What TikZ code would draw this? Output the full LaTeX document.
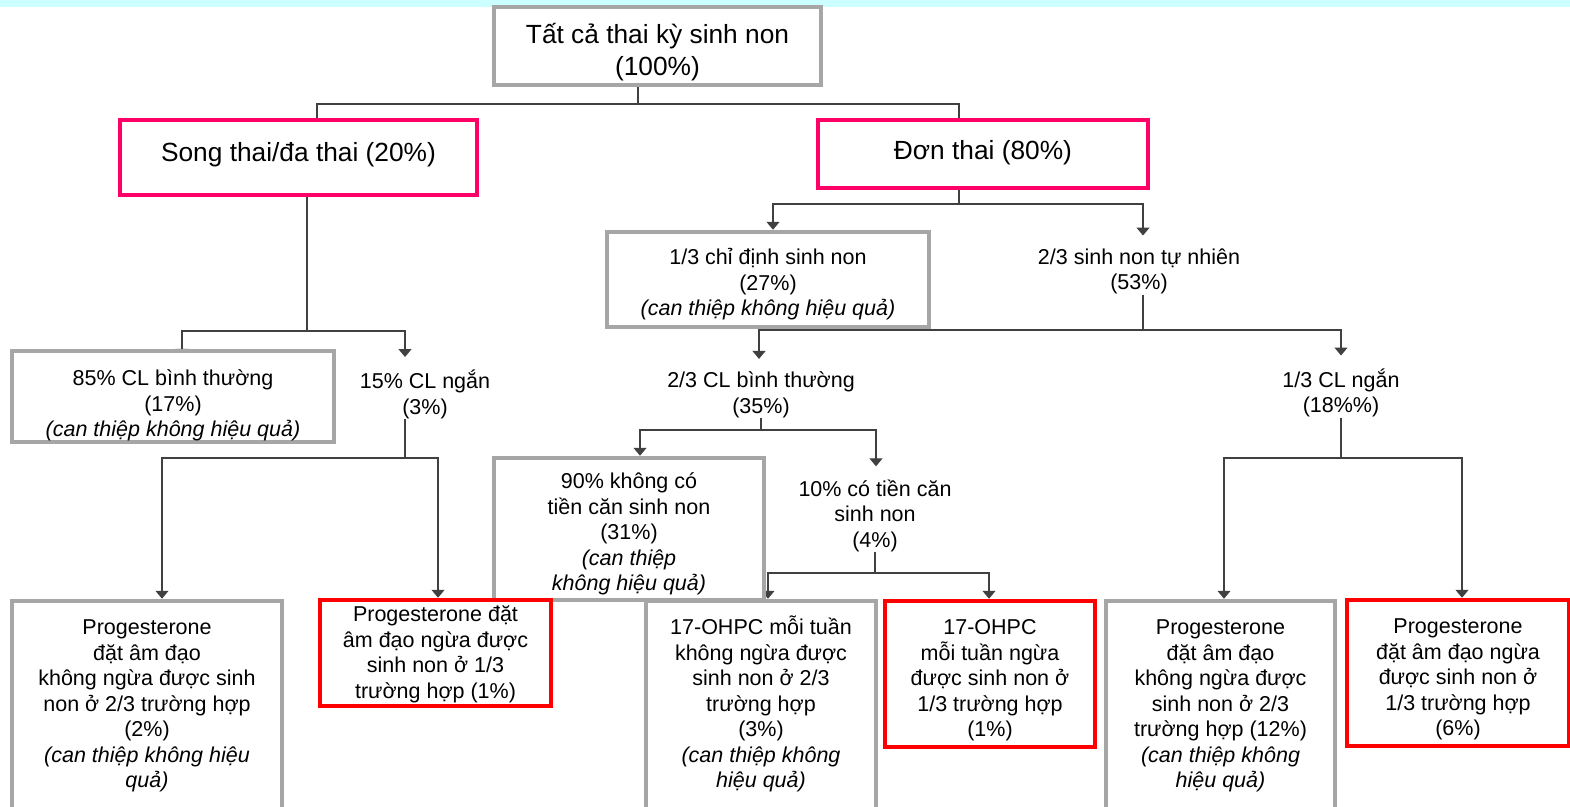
\documentclass[tikz,border=0pt]{standalone}
\usepackage{fontspec}
\setmainfont{Liberation Sans}
\usetikzlibrary{arrows.meta,calc,backgrounds}

\definecolor{boxgray}{HTML}{A6A6A6}
\definecolor{boxpink}{HTML}{FF0066}
\definecolor{boxred}{HTML}{FF0000}
\definecolor{linegray}{HTML}{404040}
\definecolor{bandcyan}{HTML}{CCFFFF}

\begin{document}
\begin{tikzpicture}[x=1pt,y=-1pt,
  box/.style={fill=white,line width=4.5pt,align=center,inner sep=0pt},
  graybox/.style={box,draw=boxgray},
  pinkbox/.style={box,draw=boxpink},
  redbox/.style={box,draw=boxred},
  tpos/.style={text height=#1,text depth=0pt},
  big/.style={font=\fontsize{26.3}{32}\selectfont},
  txt/.style={font=\fontsize{21.5}{25.5}\selectfont},
  lbl/.style={txt,align=center,inner sep=0pt},
  link/.style={draw=linegray,line width=1.3pt},
  arr/.style={link,-{Triangle[width=13pt,length=8pt]}},
  tolbl/.style={shorten >=13pt}]
\useasboundingbox (0,0) rectangle (1570,806);

% boxes
\node[graybox,big,tpos=59pt,minimum width=327pt,minimum height=78pt] (top) at (657.5,46) {Tất cả thai kỳ sinh non\\(100\%)};
\node[pinkbox,big,tpos=8pt,minimum width=357pt,minimum height=75pt] (song) at (298.5,157.5) {Song thai/đa thai (20\%)};
\node[pinkbox,big,tpos=11pt,minimum width=330pt,minimum height=68pt] (don) at (983,154) {Đơn thai (80\%)};

\node[graybox,txt,tpos=72pt,minimum width=322pt,minimum height=95pt] (chi) at (768,279.5) {1/3 chỉ định sinh non\\(27\%)\\\textit{(can thiệp không hiệu quả)}};
\node[lbl] (tn) at (1139,271.5) {2/3 sinh non tự nhiên\\(53\%)};

\node[graybox,txt,tpos=80pt,minimum width=322pt,minimum height=91pt] (bt85) at (173,396.5) {85\% CL bình thường\\(17\%)\\\textit{(can thiệp không hiệu quả)}};
\node[lbl] (cl15) at (425,394.5) {15\% CL ngắn\\(3\%)};
\node[lbl] (bt23) at (761,395) {2/3 CL bình thường\\(35\%)};
\node[lbl] (cl13) at (1341,393) {1/3 CL ngắn\\(18\%\%)};

\node[graybox,txt,tpos=123pt,minimum width=270pt,minimum height=142pt] (kcc) at (629,529) {90\% không có\\tiền căn sinh non\\(31\%)\\\textit{(can thiệp}\\\textit{không hiệu quả)}};
\node[lbl] (tc10) at (875,515.5) {10\% có tiền căn\\sinh non\\(4\%)};

\node[graybox,txt,tpos=165pt,minimum width=270pt,minimum height=208pt] (pA) at (147,705) {Progesterone\\đặt âm đạo\\không ngừa được sinh\\non ở 2/3 trường hợp\\(2\%)\\\textit{(can thiệp không hiệu}\\\textit{quả)}};
\node[redbox,txt,tpos=90pt,minimum width=231pt,minimum height=106pt] (pB) at (435.5,653) {Progesterone đặt\\âm đạo ngừa được\\sinh non ở 1/3\\trường hợp (1\%)};
\node[graybox,txt,tpos=165pt,minimum width=230pt,minimum height=208pt] (oh1) at (761,705) {17-OHPC mỗi tuần\\không ngừa được\\sinh non ở 2/3\\trường hợp\\(3\%)\\\textit{(can thiệp không}\\\textit{hiệu quả)}};
\node[redbox,txt,tpos=125pt,minimum width=210pt,minimum height=146pt] (oh2) at (990,674) {17-OHPC\\mỗi tuần ngừa\\được sinh non ở\\1/3 trường hợp\\(1\%)};
\node[graybox,txt,tpos=165pt,minimum width=229pt,minimum height=208pt] (pC) at (1220.5,705) {Progesterone\\đặt âm đạo\\không ngừa được\\sinh non ở 2/3\\trường hợp (12\%)\\\textit{(can thiệp không}\\\textit{hiệu quả)}};
\node[redbox,txt,tpos=125pt,minimum width=222pt,minimum height=146pt] (pD) at (1458,673) {Progesterone\\đặt âm đạo ngừa\\được sinh non ở\\1/3 trường hợp\\(6\%)};

% junctions
\coordinate (j0) at (638,104);
\coordinate (j1) at (307,331);
\coordinate (j2) at (959,204);
\coordinate (j3) at (1143,330);
\coordinate (j4) at (761,430);
\coordinate (j5) at (875,573);
\coordinate (j6) at (405,458);
\coordinate (j7) at (1341,458);

\begin{scope}[on background layer]
\fill[bandcyan] (0,0) rectangle (1570,7);

\draw[link] (j0 |- top.south) -- (j0);
\draw[link] (j0) -| ([xshift=18.5pt]song.north);
\draw[link] (j0) -| ([xshift=-24pt]don.north);

\draw[link] (j1 |- song.south) -- (j1);
\draw[arr] (j1) -| ([xshift=9pt,yshift=-8pt]bt85.north);
\draw[arr,tolbl] (j1) -| ([xshift=-20pt]cl15.north);

\draw[link] (j2 |- don.south) -- (j2);
\draw[arr] (j2) -| ([xshift=5pt]chi.north);
\draw[arr,tolbl] (j2) -| ([xshift=4pt]tn.north);

\draw[link] (j3 |- tn.south) -- (j3);
\draw[arr,tolbl] (j3) -| ([xshift=-2pt]bt23.north);
\draw[arr,tolbl] (j3) -| (cl13.north);

\draw[link] (j4 |- bt23.south) -- (j4);
\draw[arr] (j4) -| ([xshift=11pt]kcc.north);
\draw[arr,tolbl] (j4) -| ([xshift=1pt]tc10.north);

\draw[link] (j5 |- tc10.south) -- (j5);
\draw[arr] (j5) -| ([xshift=7pt]oh1.north);
\draw[arr] (j5) -| ([xshift=-1pt]oh2.north);

\draw[link] (j6 |- cl15.south) -- (j6);
\draw[arr] (j6) -| ([xshift=15pt]pA.north);
\draw[arr] (j6) -| ([xshift=2.5pt]pB.north);

\draw[link] (j7 |- cl13.south) -- (j7);
\draw[arr] (j7) -| ([xshift=3.5pt]pC.north);
\draw[arr] (j7) -| ([xshift=4pt]pD.north);
\end{scope}

\end{tikzpicture}
\end{document}
